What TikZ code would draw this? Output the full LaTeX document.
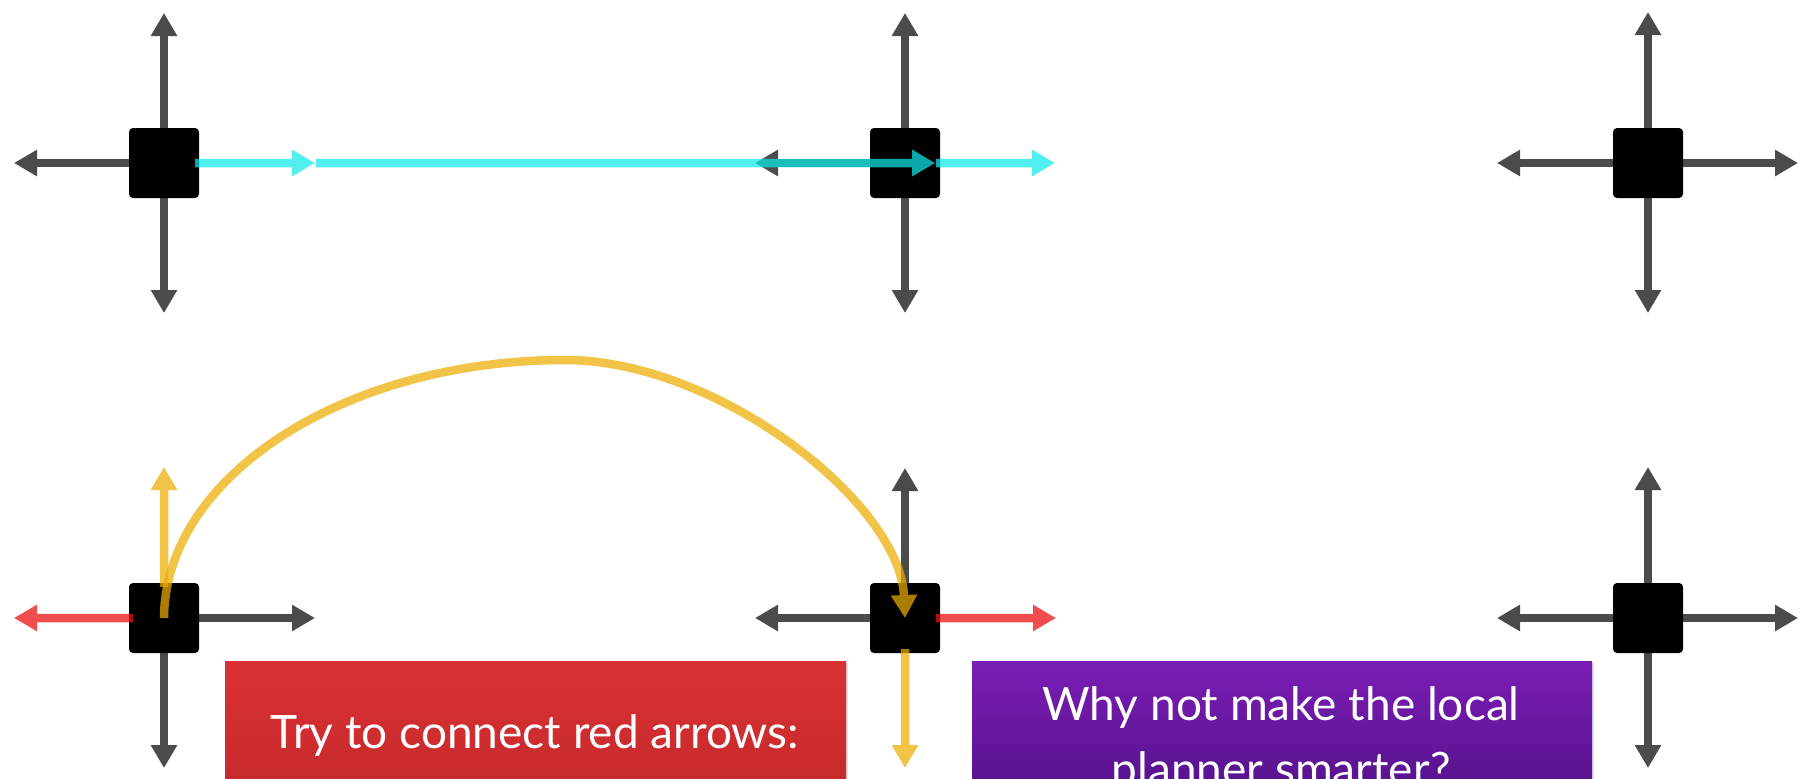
\documentclass[tikz,border=0pt]{standalone}
\usepackage{fontspec}
\newfontfamily\boxfont{Lato}
\usetikzlibrary{arrows.meta,shadows,backgrounds}
\definecolor{armgrey}{HTML}{4B4B4B}
\definecolor{cyanarr}{RGB}{14,234,234}
\definecolor{redarr}{RGB}{236,20,20}
\definecolor{yelarr}{RGB}{236,172,0}
\definecolor{redtop}{HTML}{DB3134}
\definecolor{redbot}{HTML}{C4292B}
\definecolor{purtop}{HTML}{7A1DB4}
\definecolor{purbot}{HTML}{54128A}
\tikzset{
  robot/.style={fill=black, rounded corners=4pt, minimum size=70pt, inner sep=0pt, draw=none},
  tipstyle/.style={-{Triangle[width=25pt,length=23pt]}},
  arm/.style={draw=armgrey, line width=8.5pt, tipstyle},
  cyanarm/.style={draw=cyanarr, line width=8.5pt, tipstyle},
  redarm/.style={draw=redarr, line width=8.5pt, tipstyle},
  yelarm/.style={draw=yelarr, line width=8.5pt, tipstyle},
  redbox/.style={top color=redtop, bottom color=redbot, draw=none, minimum width=621pt, minimum height=139pt, inner sep=0pt,
    drop shadow={opacity=0.25, shadow xshift=2pt, shadow yshift=-2pt}},
  purbox/.style={top color=purtop, bottom color=purbot, draw=none, minimum width=620pt, minimum height=139pt, inner sep=0pt,
    drop shadow={opacity=0.25, shadow xshift=2pt, shadow yshift=-2pt}},
  boxtext/.style={text=white, inner sep=0pt}
}
\begin{document}
\begin{tikzpicture}[x=1pt,y=-1pt]
\useasboundingbox (0,0) rectangle (1807,779);
% robots
\node[robot] (n11) at (164,163) {};
\node[robot] (n12) at (905,163) {};
\node[robot] (n13) at (1648,163) {};
\node[robot] (n21) at (164,618) {};
\node[robot] (n22) at (905,618) {};
\node[robot] (n23) at (1648,618) {};
% arm tips
\coordinate (t11L) at (14,163);   \coordinate (t11U) at (164,13);  \coordinate (t11D) at (164,313); \coordinate (t11R) at (315,163);
\coordinate (t12L) at (755,163);  \coordinate (t12U) at (905,13);  \coordinate (t12D) at (905,313); \coordinate (t12R) at (1055,163);
\coordinate (t13L) at (1497,163); \coordinate (t13U) at (1648,12); \coordinate (t13D) at (1648,313); \coordinate (t13R) at (1798,163);
\coordinate (t21L) at (14,618);   \coordinate (t21U) at (164,467); \coordinate (t21D) at (164,768); \coordinate (t21R) at (315,618);
\coordinate (t22L) at (755,618);  \coordinate (t22U) at (905,468); \coordinate (t22D) at (905,768); \coordinate (t22R) at (1056,618);
\coordinate (t23L) at (1497,618); \coordinate (t23U) at (1648,467);\coordinate (t23D) at (1648,768); \coordinate (t23R) at (1798,618);
\coordinate (ctop) at (565,360);
\begin{pgfonlayer}{background}
  \fill[white] (0,0) rectangle (1807,779);
  % grey arms
  \draw[arm] (n11.center) -- (t11L);
  \draw[arm] (n11.center) -- (t11U);
  \draw[arm] (n11.center) -- (t11D);
  \draw[arm] (n12.center) -- (t12L);
  \draw[arm] (n12.center) -- (t12U);
  \draw[arm] (n12.center) -- (t12D);
  \draw[arm] (n13.center) -- (t13L);
  \draw[arm] (n13.center) -- (t13U);
  \draw[arm] (n13.center) -- (t13D);
  \draw[arm] (n13.center) -- (t13R);
  \draw[arm] (n21.center) -- (t21R);
  \draw[arm] (n21.center) -- (t21D);
  \draw[arm] (n22.center) -- (t22L);
  \draw[arm] (n22.center) -- (t22U);
  \draw[arm] (n23.center) -- (t23L);
  \draw[arm] (n23.center) -- (t23U);
  \draw[arm] (n23.center) -- (t23D);
  \draw[arm] (n23.center) -- (t23R);
\end{pgfonlayer}
% cyan path (top row)
\begin{scope}[transparency group, opacity=0.72]
\draw[cyanarm] ([xshift=-4pt]n11.east) -- (t11R);
\end{scope}
\begin{scope}[transparency group, opacity=0.72]
\draw[cyanarm] ([xshift=1pt]t11R) -- ([xshift=-5pt]n12.east);
\end{scope}
\begin{scope}[transparency group, opacity=0.72]
\draw[cyanarm] ([xshift=-4pt]n12.east) -- (t12R);
\end{scope}
% red and yellow arms (bottom row)
\begin{scope}[transparency group, opacity=0.75]
\draw[redarm] ([xshift=4pt]n21.west) -- (t21L);
\end{scope}
\begin{scope}[transparency group, opacity=0.75]
\draw[redarm] ([xshift=-4pt]n22.east) -- (t22R);
\end{scope}
\begin{scope}[transparency group, opacity=0.72]
\draw[yelarm] ([yshift=-4pt]n21.north) -- (t21U);
\end{scope}
\begin{scope}[transparency group, opacity=0.72]
\draw[yelarm] ([yshift=4pt]n22.south) -- (t22D);
\end{scope}
% yellow connecting curve
\begin{scope}[transparency group, opacity=0.72]
\draw[yelarm] (n21.center) .. controls (165,476) and (345,360) .. (ctop)
              .. controls (718,360) and (900,503) .. (n22.center);
\end{scope}
% text boxes
\begin{scope}
\clip (0,0) rectangle (1807,779);
\node[redbox] (tryb) at (535.5,730.5) {};
\node[purbox] (whyb) at (1282,730.5) {};
\end{scope}
\node[boxtext, anchor=base, font=\boxfont\fontsize{46}{55}\selectfont] (tryt) at (535,748) {Try to connect red arrows:};
\node[boxtext, anchor=north, align=center, font=\boxfont\fontsize{46}{65}\selectfont] (whyt) at (1281,686) {Why not make the local\\ planner smarter?};
\end{tikzpicture}
\end{document}
